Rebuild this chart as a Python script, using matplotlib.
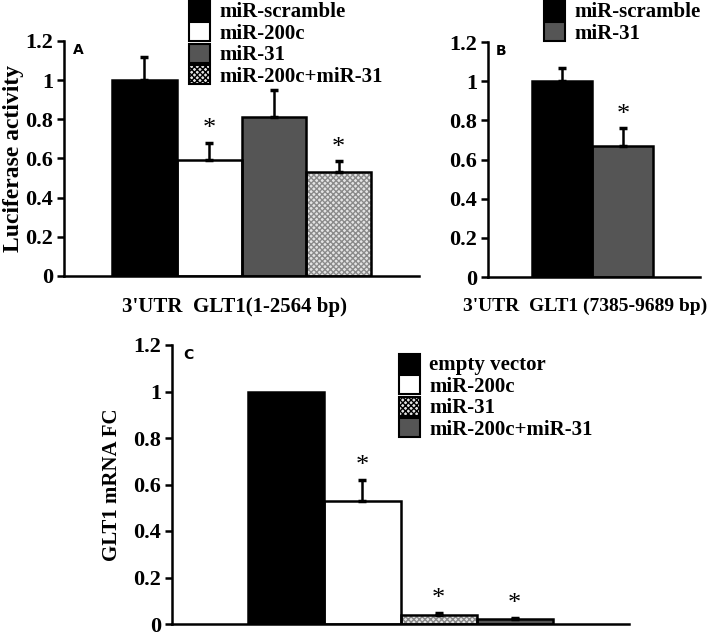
import matplotlib
matplotlib.use("Agg")
from matplotlib import pyplot as plt
from matplotlib.patches import Patch

plt.rcParams['font.family'] = 'Liberation Serif'
plt.rcParams['font.weight'] = 'bold'
plt.rcParams['axes.labelweight'] = 'bold'
plt.rcParams['hatch.linewidth'] = 1.0

# panel A
a_labels = ["miR-scramble", "miR-200c", "miR-31", "miR-200c+miR-31"]
a_values = [1.0, 0.59, 0.81, 0.53]
a_errors = [0.12, 0.09, 0.14, 0.055]
a_star = [False, True, False, True]
a_fill = ["black", "white", "dark", "check"]

# panel B
b_labels = ["miR-scramble", "miR-31"]
b_values = [1.0, 0.67]
b_errors = [0.065, 0.09]
b_star = [False, True]
b_fill = ["black", "dark"]

# panel C
c_labels = ["empty vector", "miR-200c", "miR-31", "miR-200c+miR-31"]
c_values = [1.0, 0.53, 0.04, 0.02]
c_errors = [0.0, 0.09, 0.007, 0.007]
c_star = [False, True, True, True]
c_fill = ["black", "white", "check", "dark"]

yticks = [0, 0.2, 0.4, 0.6, 0.8, 1, 1.2]

W, H = 709, 637
fig = plt.figure(figsize=(W/100, H/100), dpi=100)

def box(l, r, b, t):
	return [l/W, 1-b/H, (r-l)/W, (b-t)/H]

def face(kind):
	if kind == "black":
		return dict(color="black")
	if kind == "white":
		return dict(color="white")
	if kind == "dark":
		return dict(color="#555555")
	return dict(color="#e4e4e4", hatch="xxxxxx")

def draw(ax, values, errors, stars, fills, xlim):
	x = list(range(len(values)))
	for i in x:
		f = face(fills[i])
		if "hatch" in f:
			ax.bar(x[i], values[i], width=1.0, color=f["color"], edgecolor="#8a8a8a",
				hatch=f["hatch"], linewidth=0, zorder=2)
		else:
			ax.bar(x[i], values[i], width=1.0, color=f["color"], linewidth=0, zorder=2)
		ax.bar(x[i], values[i], width=1.0, fill=False, edgecolor="black", linewidth=1.8, zorder=3)
		if errors[i] > 0:
			ax.errorbar(x[i], values[i], yerr=[[0], [errors[i]]], fmt="none", ecolor="black",
				elinewidth=1.8, capsize=3, capthick=2.5, zorder=4)
		if stars[i]:
			ax.text(x[i], values[i] + errors[i] + 0.012, "*", ha="center", va="bottom",
				fontsize=19, fontweight="normal")
	ax.set_xlim(*xlim)
	ax.set_ylim(0, 1.2)
	ax.set_yticks(yticks)
	ax.set_yticklabels(["%g" % t for t in yticks])
	ax.set_xticks([])
	for s in ["top", "right"]:
		ax.spines[s].set_visible(False)
	for s in ["left", "bottom"]:
		ax.spines[s].set_linewidth(1.8)
	ax.tick_params(axis="y", direction="out", length=5, width=1.8, labelsize=16, pad=3)

def legend(ax, labels, fills, x, y):
	handles = []
	for k in fills:
		f = face(k)
		if "hatch" in f:
			handles.append(Patch(facecolor=f["color"], edgecolor="black", hatch=f["hatch"], linewidth=1.5))
		else:
			handles.append(Patch(facecolor=f["color"], edgecolor="black", linewidth=1.5))
	ax.legend(handles, labels, loc="upper left", bbox_to_anchor=(x/W, 1-y/H),
		bbox_transform=fig.transFigure, frameon=False, fontsize=15, borderpad=0,
		handlelength=1.0, handleheight=1.0, handletextpad=0.45, labelspacing=0.0,
		borderaxespad=0)

# A
axA = fig.add_axes(box(64, 419, 276, 41))
draw(axA, a_values, a_errors, a_star, a_fill, (-1.24, 4.24))
axA.set_ylabel("Luciferase activity", fontsize=17)
axA.yaxis.set_label_coords((24-64)/355, 0.5)
axA.set_xlabel("3'UTR  GLT1(1-2564 bp)", fontsize=15)
axA.xaxis.set_label_coords((234-64)/355, -0.09)
axA.text(0.025, 0.99, "A", transform=axA.transAxes, family="DejaVu Sans", fontsize=10,
	fontweight="bold", va="top")
legend(axA, a_labels, a_fill, 189, 1)

# B
axB = fig.add_axes(box(488, 700, 277, 42))
draw(axB, b_values, b_errors, b_star, b_fill, (-1.22, 2.27))
axB.set_xlabel("3'UTR  GLT1 (7385-9689 bp)", fontsize=14)
axB.xaxis.set_label_coords((585-488)/212, -0.09)
axB.text(0.035, 0.99, "B", transform=axB.transAxes, family="DejaVu Sans", fontsize=10,
	fontweight="bold", va="top")
legend(axB, b_labels, b_fill, 544, 1)

# C
axC = fig.add_axes(box(172, 629, 624, 345))
draw(axC, c_values, c_errors, c_star, c_fill, (-1.5, 4.5))
axC.set_ylabel("GLT1 mRNA FC", fontsize=15)
axC.yaxis.set_label_coords((122-172)/457, 0.5)
axC.text(0.025, 0.99, "C", transform=axC.transAxes, family="DejaVu Sans", fontsize=10,
	fontweight="bold", va="top")
legend(axC, c_labels, c_fill, 399, 354)

fig.savefig("out.png", dpi=100)
